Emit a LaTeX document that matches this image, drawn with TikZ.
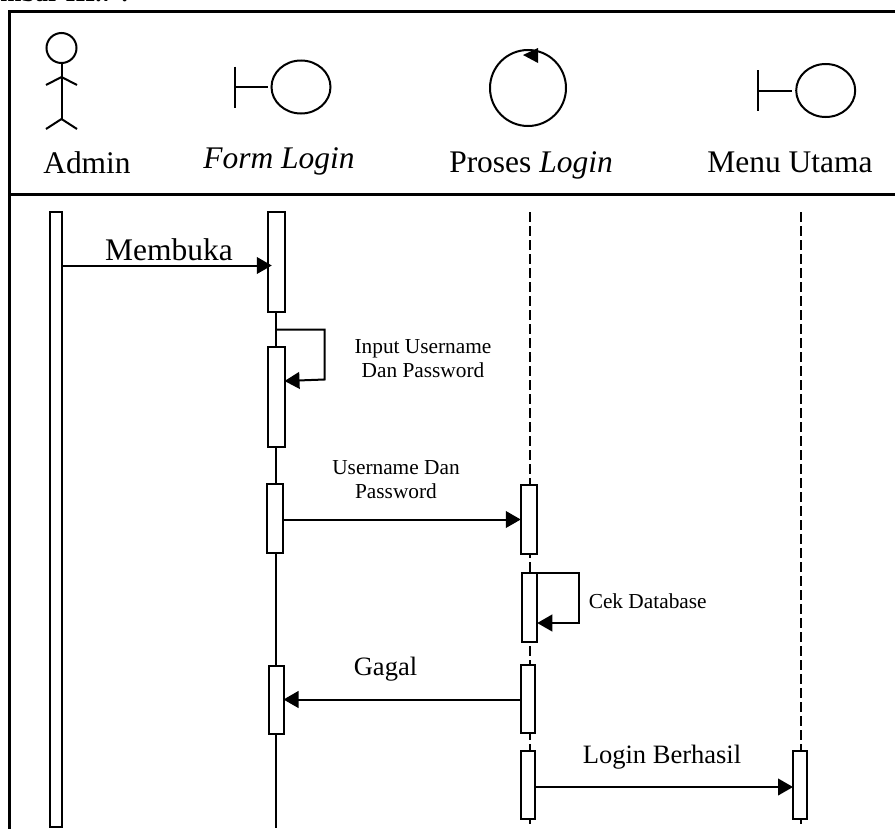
\documentclass[tikz,border=0pt]{standalone}
\usepackage{fontspec}
\setmainfont{Liberation Serif}
\usepackage{tikz}
\usetikzlibrary{arrows.meta, calc, shapes.geometric}
\tikzset{
  msg/.style={-{Triangle[length=11.25pt,width=12.5pt]}, line width=1.5pt, draw=black},
  selfmsg/.style={-{Triangle[length=11.25pt,width=12.5pt]}, line width=1.5pt, draw=black, rounded corners=0pt},
  actbar/.style={draw=black, fill=white, line width=1.5pt, rectangle, inner sep=0pt, outer sep=0pt},
  lifedash/.style={draw=black, line width=1.5pt, dash pattern=on 7.5pt off 3pt},
  lifeline/.style={draw=black, line width=1.5pt},
  icon/.style={draw=black, line width=1.5pt, ellipse, inner sep=0pt, outer sep=0pt},
  bigt/.style={font=\fontsize{23.6}{28}\selectfont, anchor=base, inner sep=0pt},
  midt/.style={font=\fontsize{19.9}{24}\selectfont, anchor=base, inner sep=0pt},
  smallt/.style={font=\fontsize{16}{18}\selectfont, align=center, inner sep=0pt}
}
\begin{document}
\begin{tikzpicture}[x=0.75pt, y=-0.75pt]
\useasboundingbox (0,0) rectangle (895,828);
% ---- frame ----
\coordinate (frtl) at (9,11);
\coordinate (frtr) at (895,11);
\coordinate (frbl) at (9,828);
\coordinate (hdl) at (9,194);
\coordinate (hdr) at (895,194);
\draw[line width=2.25pt, line cap=rect] (frbl) -- (frtl) -- (frtr);
\draw[line width=2.25pt] (hdl) -- (hdr);
\begin{scope}
\clip (0,0) rectangle (895,11);
\node[font=\bfseries\fontsize{19}{22}\selectfont, anchor=base west, inner sep=0pt] (capt) at (0,2) {mbar III.7 :};
\end{scope}
% ---- header icons ----
\node[icon, circle, minimum size=22.5pt] (admhead) at (61.5,48) {};
\coordinate (admhip) at (61.5,119);
\coordinate (admarm) at (61.5,77);
\draw[lifeline] (admhead.south) -- (admhip);
\foreach \s in {-1,1}{
  \coordinate (hand) at ($(admarm)+(\s*15.5,8)$);
  \coordinate (foot) at ($(admhip)+(\s*15.5,10)$);
  \draw[lifeline] (admarm) -- (hand);
  \draw[lifeline] (admhip) -- (foot);
}
\foreach \n/\xb/\xc/\yc in {fl/234.5/301/87, mu/758/825.7/90.5}{
  \node[icon, minimum width=44.25pt, minimum height=39.75pt] (\n circ) at (\xc,\yc) {};
  \coordinate (\n stem) at (\xb,\yc);
  \coordinate (\n top) at (\xb,\yc-20.5);
  \coordinate (\n bot) at (\xb,\yc+20.5);
  \draw[lifeline] (\n top) -- (\n bot);
  \draw[lifeline, shorten >=3pt] (\n stem) -- (\n circ.west);
}
\node[icon, circle, minimum size=57pt] (prcirc) at (528,88) {};
\fill (523,55) -- (538,48) -- (538,63) -- cycle;
\node[bigt] (admlab) at (87,173) {Admin};
\node[bigt] (fllab) at (279,168) {\textit{Form Login}};
\node[bigt] (prlab) at (531,172) {Proses \textit{Login}};
\node[bigt] (mulab) at (790,172) {Menu Utama};
% ---- lifelines ----
\coordinate (fltop) at (276,212);
\coordinate (flend) at (276,828);
\draw[lifeline] (fltop) -- (flend);
\foreach \x in {530,801}{
  \coordinate (dtop) at (\x,212);
  \coordinate (dend) at (\x,828);
  \draw[lifedash] (dtop) -- (dend);
}
% ---- activation bars ----
\foreach \n/\x/\y/\w/\h in {
  adm/56/519.5/11.5/615,
  fa/276.5/262/16.5/100,
  fb/276.25/397/16.5/100,
  fc/275/518.5/16/69,
  fd/276/700/15/68,
  pa/529/519.5/16.5/69,
  pb/529.75/607.5/15/69,
  pc/528/699/14/68,
  pd/528/785/14/68,
  ma/800/785/14/68}{
  \node[actbar, minimum width=\w*0.75pt, minimum height=\h*0.75pt] (\n) at (\x,\y) {};
}
% ---- messages ----
\draw[msg] (adm.east |- 0,265.5) -- ($(fa.west |- 0,265.5)+(3.5,0)$);
\node[bigt] (lbuka) at (169,260) {Membuka};
\coordinate (sa) at (324.5,329.5);
\coordinate (sb) at (324.5,379.5);
\draw[selfmsg] (276,329.5) -- (sa) -- (sb) -- (fb.east |- 0,381);
\node[smallt] (linput) at (423,358.5) {Input Username\\Dan Password};
\draw[msg] (fc.east |- 0,519.5) -- (pa.west |- 0,519.5);
\node[smallt] (luser) at (396,480) {Username Dan\\Password};
\coordinate (ca) at (578.7,573);
\coordinate (cb) at (578.7,623);
\draw[selfmsg] (pb.north east) -- (ca) -- (cb) -- (pb.east |- 0,623);
\node[smallt] (lcek) at (647.7,601) {Cek Database};
\draw[msg] (pc.west |- 0,699.5) -- (fd.east |- 0,699.5);
\node[midt] (lgagal) at (385.5,675) {Gagal};
\draw[msg] (pd.east |- 0,787) -- (ma.west |- 0,787);
\node[midt] (lhasil) at (662,763) {Login Berhasil};
\end{tikzpicture}
\end{document}
